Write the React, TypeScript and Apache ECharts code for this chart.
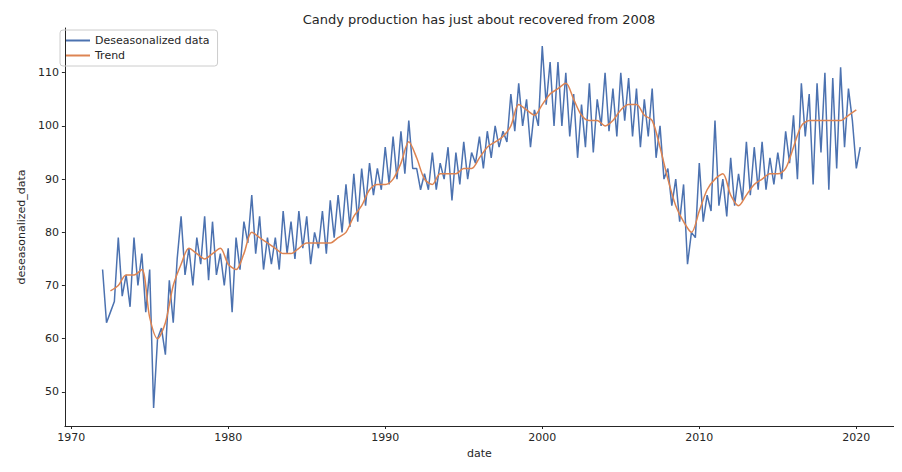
import { useEffect, useRef } from "react";
import * as echarts from "echarts";

const TEXT = "#262626";

// deseasonalized data, quarterly from 1972.0
const DESEASON_START = 1972;
const DESEASON_STEP = 0.25;
const deseason = [
  73, 63, 65, 67, 79, 68, 72, 66, 79, 70, 76, 65, 73, 47, 60, 62,
  57, 71, 63, 75, 83, 72, 77, 70, 79, 74, 83, 71, 82, 72, 76, 70,
  77, 65, 79, 73, 82, 78, 87, 76, 83, 73, 79, 74, 79, 73, 84, 76,
  82, 75, 84, 77, 83, 74, 80, 77, 84, 76, 86, 79, 87, 80, 89, 81,
  91, 82, 92, 85, 93, 87, 92, 88, 96, 89, 98, 90, 99, 91, 101, 92,
  92, 88, 91, 88, 95, 88, 93, 90, 96, 86, 95, 89, 97, 90, 95, 93,
  98, 92, 99, 94, 100, 96, 99, 97, 106, 99, 108, 100, 105, 96, 103, 100,
  115, 104, 112, 100, 112, 100, 110, 98, 106, 94, 104, 96, 108, 95, 105, 100,
  110, 99, 107, 98, 110, 101, 109, 98, 107, 96, 105, 98, 107, 94, 100, 90,
  92, 85, 90, 82, 89, 74, 80, 79, 93, 82, 87, 84, 101, 85, 90, 83,
  94, 85, 91, 86, 97, 87, 96, 88, 97, 88, 94, 89, 95, 90, 99, 93,
  102, 90, 108, 98, 106, 89, 108, 95, 110, 88, 109, 92, 111, 96, 107, 101,
  92, 96,
];

// trend, half-yearly from 1972.5
const TREND_START = 1972.5;
const TREND_STEP = 0.5;
const trend = [
  69, 70, 72, 72, 73, 64, 60, 63, 70, 74, 77, 76, 75, 76, 77, 74,
  73, 76, 80, 79, 78, 77, 76, 76, 77, 78, 78, 78, 78, 79, 80, 83,
  85, 88, 89, 89, 90, 93, 97, 94, 90, 89, 91, 91, 91, 92, 92, 94,
  96, 97, 98, 100, 104, 103, 102, 104, 106, 107, 108, 105, 102, 101, 101, 100,
  101, 103, 104, 104, 102, 101, 96, 90, 85, 82, 80, 84, 88, 90, 91, 87,
  85, 87, 89, 90, 91, 91, 92, 96, 100, 101, 101, 101, 101, 101, 102, 103,
];

const xTicks = [1970, 1980, 1990, 2000, 2010, 2020];
const yTicks = [50, 60, 70, 80, 90, 100, 110];

export default function App() {
  const elRef = useRef<HTMLDivElement>(null);

  useEffect(() => {
    const el = elRef.current;
    if (!el) return;
    const chart = echarts.init(el, null, { renderer: "svg" });
    const font = "DejaVu Sans";
    chart.setOption({
      animation: false,
      textStyle: { fontFamily: font },
      title: {
        text: "Candy production has just about recovered from 2008",
        left: 466,
        textAlign: "center",
        top: 0,
        textStyle: { fontSize: 13, fontWeight: "normal", color: TEXT, fontFamily: font },
      },
      legend: {
        left: 52,
        top: 22,
        orient: "vertical",
        itemGap: 4,
        itemWidth: 24,
        itemHeight: 2,
        padding: [5, 8, 5, 6],
        borderColor: "#ccc",
        borderWidth: 1,
        borderRadius: 3,
        icon: "rect",
        textStyle: { fontSize: 11, color: TEXT, padding: [0, 40, 0, 0] },
        data: ["Deseasonalized data", "Trend"],
      },
      grid: { left: 44, right: 0, top: 20, bottom: 36 },
      xAxis: {
        type: "value",
        min: 1969.6,
        max: 2022.4,
        name: "date",
        nameLocation: "middle",
        nameGap: 22,
        nameTextStyle: { fontSize: 11, color: TEXT },
        axisLine: { lineStyle: { color: "#262626", width: 1 } },
        axisTick: { show: true, length: 3, customValues: xTicks, lineStyle: { color: "#262626" } },
        axisLabel: {
          color: TEXT,
          fontSize: 11,
          customValues: xTicks,
          margin: 6,
          formatter: (v: number) => String(v),
        },
        splitLine: { show: false },
      },
      yAxis: {
        type: "value",
        min: 43.6,
        max: 118.4,
        name: "deseasonalized_data",
        nameLocation: "middle",
        nameGap: 30,
        nameTextStyle: { fontSize: 11, color: TEXT },
        axisLine: { show: true, lineStyle: { color: "#262626", width: 1 } },
        axisTick: { show: true, length: 3, customValues: yTicks, lineStyle: { color: "#262626" } },
        axisLabel: { color: TEXT, fontSize: 11, customValues: yTicks, margin: 6 },
        splitLine: { show: false },
      },
      series: [
        {
          name: "Deseasonalized data",
          type: "line",
          showSymbol: false,
          color: "#4c72b0",
          lineStyle: { width: 1.5, color: "#4c72b0" },
          data: deseason.map((v, i) => [DESEASON_START + i * DESEASON_STEP, v]),
        },
        {
          name: "Trend",
          type: "line",
          showSymbol: false,
          smooth: 0.3,
          color: "#dd8452",
          lineStyle: { width: 1.5, color: "#dd8452" },
          data: trend.map((v, i) => [TREND_START + i * TREND_STEP, v]),
        },
      ],
    });
    return () => chart.dispose();
  }, []);

  return <div ref={elRef} style={{ width: 886, height: 456 }} />;
}
